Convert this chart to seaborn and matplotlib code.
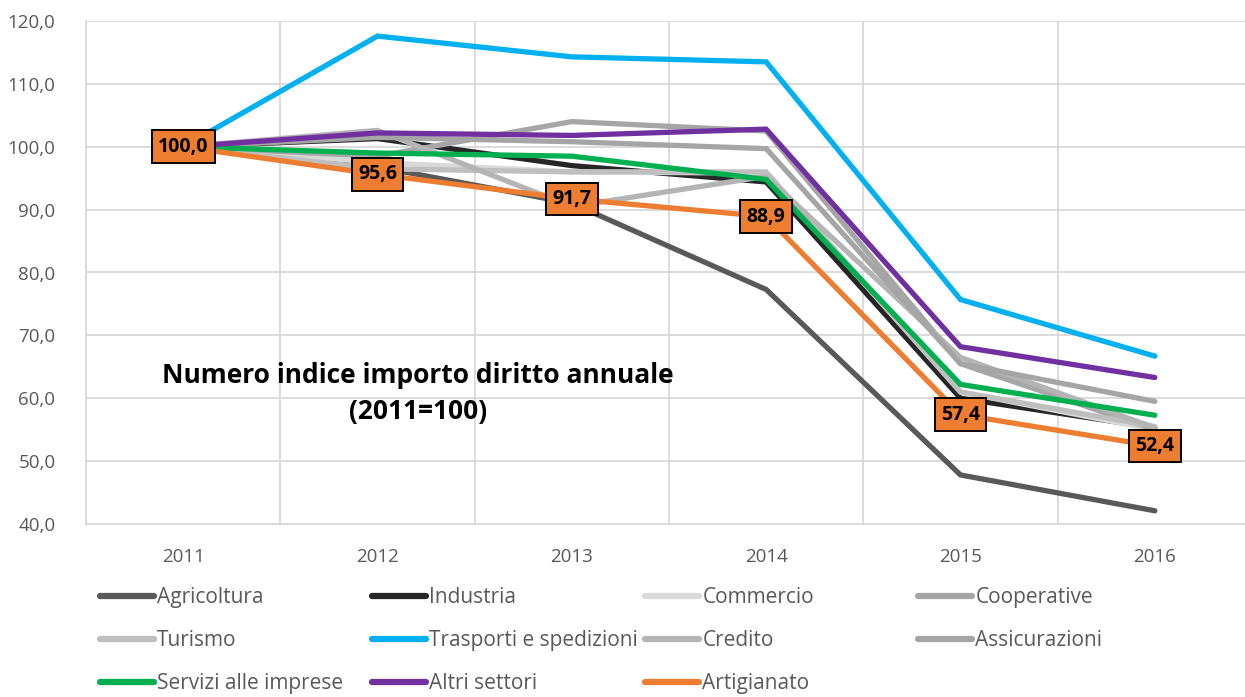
import matplotlib
matplotlib.use("Agg")
import matplotlib.pyplot as plt
import seaborn as sns
import pandas as pd
import numpy as np
from matplotlib.lines import Line2D

years = ["2011", "2012", "2013", "2014", "2015", "2016"]

agricoltura   = [100.0, 96.8, 91.0, 77.3, 47.8, 42.1]
industria     = [100.0, 101.3, 97.0, 94.4, 60.0, 55.3]
commercio     = [100.0, 97.5, 96.0, 95.8, 61.0, 55.0]
cooperative   = [100.0, 98.5, 104.0, 102.5, 65.5, 55.0]
turismo       = [100.0, 96.5, 96.0, 96.0, 61.0, 55.5]
trasporti     = [100.0, 117.6, 114.3, 113.5, 75.7, 66.7]
credito       = [100.0, 102.6, 90.5, 95.3, 66.5, 55.3]
assicurazioni = [100.0, 101.5, 100.8, 99.7, 65.5, 59.5]
servizi       = [100.0, 99.0, 98.5, 94.8, 62.2, 57.3]
altri         = [100.0, 102.2, 101.8, 102.8, 68.2, 63.3]
artigianato   = [100.0, 95.6, 91.7, 88.9, 57.4, 52.4]

series_names = ["Agricoltura", "Industria", "Commercio", "Cooperative", "Turismo",
                "Trasporti e spedizioni", "Credito", "Assicurazioni",
                "Servizi alle imprese", "Altri settori", "Artigianato"]
series_values = [agricoltura, industria, commercio, cooperative, turismo, trasporti,
                 credito, assicurazioni, servizi, altri, artigianato]
colors = ["#595959", "#262626", "#d9d9d9", "#a6a6a6", "#bfbfbf", "#00b0f0",
          "#b4b4b4", "#a5a5a5", "#00b050", "#7030a0", "#ed7d31"]

title_text = "Numero indice importo diritto annuale\n(2011=100)"

rows = []
for name, vals in zip(series_names, series_values):
    for i, (yr, v) in enumerate(zip(years, vals)):
        rows.append({"serie": name, "anno": yr, "idx": i, "valore": v})
df = pd.DataFrame(rows)

sns.set_theme(style="white")
plt.rcParams["font.family"] = ["Open Sans", "DejaVu Sans"]

fig = plt.figure(figsize=(12.45, 6.97), dpi=100)
ax = fig.add_axes([86 / 1245, 1 - 524 / 697, (1252 - 86) / 1245, (524 - 21) / 697])

sns.lineplot(data=df, x="idx", y="valore", hue="serie", hue_order=series_names,
             palette=dict(zip(series_names, colors)), linewidth=3.8, ax=ax,
             legend=False, sort=False, solid_capstyle="round")
for ln in ax.get_lines():
    ln.set_solid_joinstyle("miter")

ax.set_xlim(-0.5, len(years) - 0.5)
ax.set_ylim(40, 120)
ax.set_yticks(np.arange(40, 121, 10))
ax.set_yticklabels([f"{v:.1f}".replace(".", ",") for v in np.arange(40, 121, 10)])
ax.set_xticks(range(len(years)))
ax.set_xticklabels(years)
ax.set_xticks(np.arange(-0.5, len(years), 1), minor=True)
ax.set_xlabel("")
ax.set_ylabel("")
ax.grid(False)
ax.yaxis.grid(True, color="#d9d9d9", linewidth=1.3)
ax.xaxis.grid(True, which="minor", color="#d9d9d9", linewidth=1.3)
ax.set_axisbelow(True)
for s in ["top", "right"]:
    ax.spines[s].set_visible(False)
ax.spines["left"].set_color("#d9d9d9")
ax.spines["bottom"].set_color("#d9d9d9")
ax.spines["left"].set_linewidth(1.3)
ax.spines["bottom"].set_linewidth(1.3)
ax.tick_params(axis="both", which="both", length=0, colors="#595959", labelsize=13.5)
ax.tick_params(axis="x", pad=17)
ax.tick_params(axis="y", pad=22)

# data labels on Artigianato
for i, v in enumerate(artigianato):
    ax.annotate(f"{v:.1f}".replace(".", ","), xy=(i, v), ha="center", va="center",
                fontsize=14, fontweight="bold", color="black",
                bbox=dict(boxstyle="square,pad=0.33", fc="#ed7d31", ec="black", lw=1.4),
                zorder=10)

ax.text(0.285, 0.259, title_text, transform=ax.transAxes, ha="center", va="center",
        fontsize=19, fontweight="bold", color="black", linespacing=1.42)

# legend: 4 columns, row-major
col_x = [100, 372, 645, 918]
for c in range(4):
    idxs = [k for k in range(len(series_names)) if k % 4 == c]
    handles = [Line2D([0], [0], color=colors[k], lw=4.5, solid_capstyle="round") for k in idxs]
    labels = [series_names[k] for k in idxs]
    leg = fig.legend(handles, labels, loc="upper left",
                     bbox_to_anchor=(col_x[c] / 1245, 1 - 587 / 697),
                     frameon=False, handlelength=2.6, handletextpad=0.15,
                     labelspacing=1.06, borderpad=0, borderaxespad=0,
                     prop={"family": ["Open Sans"], "size": 15})
    for t in leg.get_texts():
        t.set_color("#595959")

fig.savefig("out.png", dpi=100)
